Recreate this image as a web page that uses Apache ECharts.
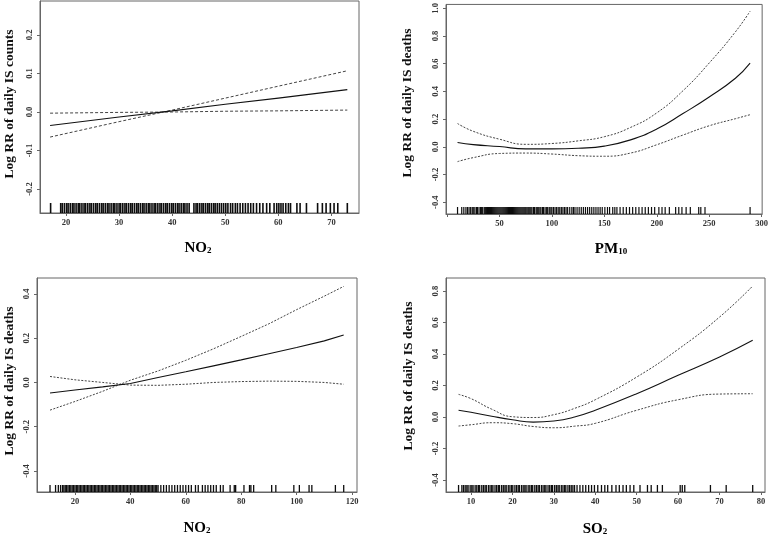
<!DOCTYPE html>
<html><head><meta charset="utf-8">
<script src="https://cdn.jsdelivr.net/npm/echarts@6/dist/echarts.min.js"></script>
<style>html,body{margin:0;padding:0;background:#fff}#c{width:771px;height:539px}</style>
</head><body><div id="c"></div>
<script>
// ---------- Panel 1: NO2 vs IS counts ----------
const x1 = [17, 30, 40, 50, 60, 73];
const fit1 = [-0.035, -0.013, 0.003, 0.020, 0.036, 0.058];
const ciA1 = [-0.065, -0.025, 0.005, 0.036, 0.067, 0.107];
const ciB1 = [-0.003, -0.001, 0.000, 0.002, 0.003, 0.005];
const rug1 = [17.1, 19.0, 19.3, 19.7, 20.1, 20.4, 20.8, 21.2, 21.5, 21.9, 22.3, 22.6, 23.0, 23.4, 23.7, 24.1, 24.5, 24.8, 25.2, 25.6, 25.9, 26.3, 26.7, 27.0, 27.4, 27.8, 28.1, 28.5, 28.9, 29.2, 29.6, 30.0, 30.3, 30.7, 31.1, 31.4, 31.8, 32.2, 32.5, 32.9, 33.3, 33.6, 34.0, 34.4, 34.7, 35.1, 35.5, 35.8, 36.2, 36.6, 36.9, 37.3, 37.7, 38.0, 38.4, 38.8, 39.1, 39.5, 39.9, 40.2, 40.6, 41.0, 41.3, 41.7, 42.1, 42.4, 42.8, 43.2, 44.1, 44.5, 44.8, 45.2, 45.6, 45.9, 46.3, 46.7, 47.0, 47.4, 47.8, 48.1, 48.5, 48.9, 49.3, 49.7, 50.1, 50.5, 51.0, 51.4, 51.9, 52.3, 52.8, 53.3, 53.8, 54.3, 54.8, 55.3, 55.9, 56.5, 57.1, 57.8, 58.4, 59.2, 59.7, 60.1, 60.5, 60.9, 61.4, 61.9, 62.3, 63.5, 64.1, 65.3, 67.4, 68.3, 69.0, 69.8, 70.5, 71.2, 73.0];
const xTicks1 = [20, 30, 40, 50, 60, 70];
const yTicks1 = [-0.2, -0.1, 0.0, 0.1, 0.2];

// ---------- Panel 2: PM10 vs IS deaths ----------
const x2 = [10, 25, 50, 75, 100, 125, 150, 175, 200, 225, 250, 275, 289];
const fit2 = [0.031, 0.016, 0.002, -0.015, -0.015, -0.010, 0.005, 0.050, 0.128, 0.240, 0.360, 0.495, 0.604];
const up2 = [0.168, 0.112, 0.055, 0.018, 0.024, 0.043, 0.073, 0.140, 0.245, 0.405, 0.605, 0.830, 0.979];
const lo2 = [-0.107, -0.078, -0.048, -0.045, -0.052, -0.064, -0.068, -0.045, 0.015, 0.085, 0.152, 0.203, 0.232];
const rug2 = [10, 14, 16, 18, 19.5, 21, 22.5, 24, 25, 26.5, 28, 29, 30.5, 32, 33, 34, 35.5, 36.5, 37.5, 38.5, 39.5, 40.5, 41.5, 42.5, 43.5, 44.5, 45.5, 46.5, 47.5, 48.5, 49.5, 50.5, 51.5, 52.5, 53.5, 54.5, 55.5, 56.5, 57.5, 58.5, 59.5, 60.5, 61.5, 62.5, 63.5, 64.5, 65.5, 66.5, 67.5, 68.5, 69.5, 70.5, 71.5, 72.5, 73.5, 74.5, 75.5, 77, 78, 79, 80, 81, 82.5, 83.5, 85, 86, 87, 88.5, 89.5, 91, 92, 93.5, 95, 96, 97.5, 99, 100, 101.5, 103, 104.5, 106, 107.5, 109, 110.5, 112, 113.5, 115, 117, 119, 120.5, 122, 124, 126, 128, 130, 132, 134, 136, 138, 140, 142, 144, 146, 148, 150.5, 153, 155, 158, 160, 162, 165, 168, 171, 174, 177, 180, 183, 186, 189, 192, 195, 198, 202, 205, 208, 212, 218, 221, 224, 228, 232, 240, 242, 246, 289];
const xTicks2 = [0, 50, 100, 150, 200, 250, 300];
const xLabels2 = [50, 100, 150, 200, 250, 300];
const yTicks2 = [-0.4, -0.2, 0.0, 0.2, 0.4, 0.6, 0.8, 1.0];

// ---------- Panel 3: NO2 vs IS deaths ----------
const x3 = [11, 20, 30, 40, 50, 60, 70, 80, 90, 100, 110, 117];
const fit3 = [-0.048, -0.034, -0.020, -0.005, 0.022, 0.048, 0.075, 0.102, 0.130, 0.158, 0.188, 0.214];
const ciA3 = [-0.125, -0.086, -0.040, 0.010, 0.052, 0.100, 0.152, 0.208, 0.265, 0.329, 0.390, 0.434];
const ciB3 = [0.027, 0.012, 0.000, -0.012, -0.013, -0.008, 0.000, 0.004, 0.006, 0.005, 0.000, -0.008];
const rug3 = [11.0, 13.0, 14.0, 14.8, 15.5, 16.0, 16.5, 17.0, 17.5, 18.0, 18.5, 19.0, 19.5, 20.0, 20.5, 21.0, 21.5, 22.0, 22.5, 23.0, 23.5, 24.0, 24.5, 25.0, 25.5, 26.0, 26.5, 27.0, 27.5, 28.0, 28.5, 29.0, 29.5, 30.0, 30.5, 31.0, 31.5, 32.0, 32.5, 33.0, 33.5, 34.0, 34.5, 35.0, 35.5, 36.0, 36.5, 37.0, 37.5, 38.0, 38.5, 39.0, 39.5, 40.0, 40.5, 41.0, 41.5, 42.0, 42.5, 43.0, 43.5, 44.0, 44.5, 45.0, 45.5, 46.0, 46.5, 47.0, 47.5, 48.0, 48.5, 49.0, 49.5, 50.0, 51, 52, 53, 54, 55, 56, 57, 58, 59, 60, 61, 62, 63.5, 64.5, 66, 67, 68, 69, 70, 71, 72.5, 73.5, 76, 77.5, 78, 81, 83, 83.5, 84.5, 91, 92.5, 99, 101, 104.5, 105.5, 114, 117];
const xTicks3 = [20, 40, 60, 80, 100, 120];
const yTicks3 = [-0.4, -0.2, 0.0, 0.2, 0.4];

// ---------- Panel 4: SO2 vs IS deaths ----------
const x4 = [7, 10, 15, 20, 25, 30, 35, 40, 50, 60, 70, 78];
const fit4 = [0.043, 0.030, 0.005, -0.017, -0.032, -0.025, 0.000, 0.043, 0.148, 0.265, 0.381, 0.487];
const up4 = [0.144, 0.117, 0.050, 0.002, -0.003, 0.015, 0.055, 0.110, 0.254, 0.430, 0.635, 0.832];
const lo4 = [-0.057, -0.049, -0.036, -0.042, -0.060, -0.068, -0.058, -0.040, 0.043, 0.110, 0.146, 0.148];
const rug4 = [7.0, 7.8, 8.2, 8.6, 9.0, 9.3, 9.8, 10.2, 10.5, 11.0, 11.4, 11.8, 12.1, 12.6, 13.0, 13.4, 13.7, 14.2, 14.6, 15.0, 15.3, 15.8, 16.2, 16.6, 16.9, 17.4, 17.8, 18.2, 18.5, 19.0, 19.4, 19.8, 20.1, 20.6, 21.0, 21.4, 21.7, 22.2, 22.6, 23.0, 23.3, 23.8, 24.2, 24.6, 24.9, 25.4, 25.8, 26.2, 26.5, 27.0, 27.4, 27.8, 28.1, 28.6, 29.0, 29.4, 29.7, 30.2, 30.6, 31.0, 31.3, 31.8, 32.2, 32.6, 32.9, 33.4, 33.8, 34.2, 34.6, 35.0, 35.6, 36.3, 37.0, 37.7, 38.4, 39.1, 39.8, 40.6, 41.5, 42.3, 43.0, 44.0, 45.0, 45.8, 46.7, 47.5, 48.4, 49.3, 50.8, 52.6, 53.5, 55.0, 56.2, 60.5, 61.0, 61.6, 67.8, 71.6, 78.0];
const xTicks4 = [10, 20, 30, 40, 50, 60, 70, 80];
const yTicks4 = [-0.4, -0.2, 0.0, 0.2, 0.4, 0.6, 0.8];

const FONT = "'Liberation Serif', 'Times New Roman', serif";
const AX = '#666';

const panels = [
  {grid: {left: 40, top: 1, width: 319, height: 212}, xr: [15.1, 75.2], yr: [-0.262, 0.288],
   xt: xTicks1, xl: xTicks1, yt: yTicks1, xs: x1, fit: fit1, a: ciA1, b: ciB1, rug: rug1, rugH: 10, dash: [3, 2], smooth: false, rugW: 1.6},
  {grid: {left: 446, top: 1, width: 318, height: 213}, xr: [-1, 300.5], yr: [-0.485, 1.028],
   xt: xTicks2, xl: xLabels2, yt: yTicks2, xs: x2, fit: fit2, a: up2, b: lo2, rug: rug2, rugH: 7, dash: [2, 1.5], smooth: 0.5, rugW: 1.2},
  {grid: {left: 37, top: 278, width: 320, height: 214}, xr: [6.3, 121.8], yr: [-0.495, 0.472],
   xt: xTicks3, xl: xTicks3, yt: yTicks3, xs: x3, fit: fit3, a: ciA3, b: ciB3, rug: rug3, rugH: 7, dash: [2, 1.5], smooth: false, rugW: 1.3},
  {grid: {left: 446, top: 278, width: 319, height: 214}, xr: [3.97, 80.97], yr: [-0.476, 0.883],
   xt: xTicks4, xl: xTicks4, yt: yTicks4, xs: x4, fit: fit4, a: up4, b: lo4, rug: rug4, rugH: 7, dash: [2, 1.5], smooth: 0.5, rugW: 1.3}
];

const grids = [], xAxes = [], yAxes = [], series = [];
panels.forEach((p, i) => {
  grids.push(Object.assign({show: true, borderColor: AX, borderWidth: 1, backgroundColor: 'transparent'}, p.grid));
  xAxes.push({
    type: 'value', gridIndex: i, min: p.xr[0], max: p.xr[1],
    splitLine: {show: false},
    axisLine: {show: true, onZero: false, lineStyle: {color: AX, width: 1}},
    axisTick: {show: true, length: 3, customValues: p.xt, lineStyle: {color: AX}},
    axisLabel: {customValues: p.xl, formatter: v => String(v), fontFamily: FONT, fontWeight: 'bold', fontSize: 8.5, color: '#333', margin: 5}
  });
  yAxes.push({
    type: 'value', gridIndex: i, min: p.yr[0], max: p.yr[1],
    splitLine: {show: false},
    axisLine: {show: true, onZero: false, lineStyle: {color: AX, width: 1}},
    axisTick: {show: true, length: 3, customValues: p.yt, lineStyle: {color: AX}},
    axisLabel: {customValues: p.yt, rotate: 90, formatter: v => v.toFixed(1), fontFamily: FONT, fontWeight: 'bold', fontSize: 8.5, color: '#333', margin: 6}
  });
  const pts = arr => p.xs.map((x, k) => [x, arr[k]]);
  series.push({type: 'line', xAxisIndex: i, yAxisIndex: i, data: pts(p.fit), showSymbol: false, smooth: p.smooth,
    lineStyle: {color: '#111', width: 1.1}, z: 5});
  series.push({type: 'line', xAxisIndex: i, yAxisIndex: i, data: pts(p.a), showSymbol: false, smooth: p.smooth,
    lineStyle: {color: '#444', width: 1, type: p.dash}, z: 4});
  series.push({type: 'line', xAxisIndex: i, yAxisIndex: i, data: pts(p.b), showSymbol: false, smooth: p.smooth,
    lineStyle: {color: '#444', width: 1, type: p.dash}, z: 4});
  series.push({type: 'scatter', xAxisIndex: i, yAxisIndex: i, data: p.rug.map(v => [v, p.yr[0]]),
    symbol: 'rect', symbolSize: [p.rugW, p.rugH], symbolOffset: [0, -p.rugH / 2], clip: false,
    itemStyle: {color: '#000', opacity: 0.95}, z: 3, silent: true});
});

const subRich = {
  a: {fontFamily: FONT, fontWeight: 'bold', fontSize: 15, color: '#111', lineHeight: 15, verticalAlign: 'top'},
  s: {fontFamily: FONT, fontWeight: 'bold', fontSize: 9, color: '#111', lineHeight: 10, padding: [7, 0, 0, 0], verticalAlign: 'bottom'}
};
const xTitle = (txt, x, y) => ({type: 'text', x: x, y: y, z: 10,
  style: {text: txt, rich: subRich, align: 'center', verticalAlign: 'middle'}});
const yTitle = (txt, x, y) => ({type: 'text', x: x, y: y, rotation: Math.PI / 2, z: 10,
  style: {text: txt, fontFamily: FONT, fontWeight: 'bold', fontSize: 13.5, fill: '#111', align: 'center', verticalAlign: 'middle'}});

const chart = echarts.init(document.getElementById('c'), null, {renderer: 'canvas'});
chart.setOption({
  animation: false,
  backgroundColor: '#fff',
  grid: grids, xAxis: xAxes, yAxis: yAxes, series: series,
  graphic: [
    yTitle('Log RR of daily IS counts', 10, 104),
    yTitle('Log RR of daily IS deaths', 408, 103),
    yTitle('Log RR of daily IS deaths', 10, 381),
    yTitle('Log RR of daily IS deaths', 409, 376),
    xTitle('{a|NO}{s|2}', 198, 248),
    xTitle('{a|PM}{s|10}', 611, 249),
    xTitle('{a|NO}{s|2}', 197, 528),
    xTitle('{a|SO}{s|2}', 595, 529)
  ]
});
</script></body></html>
